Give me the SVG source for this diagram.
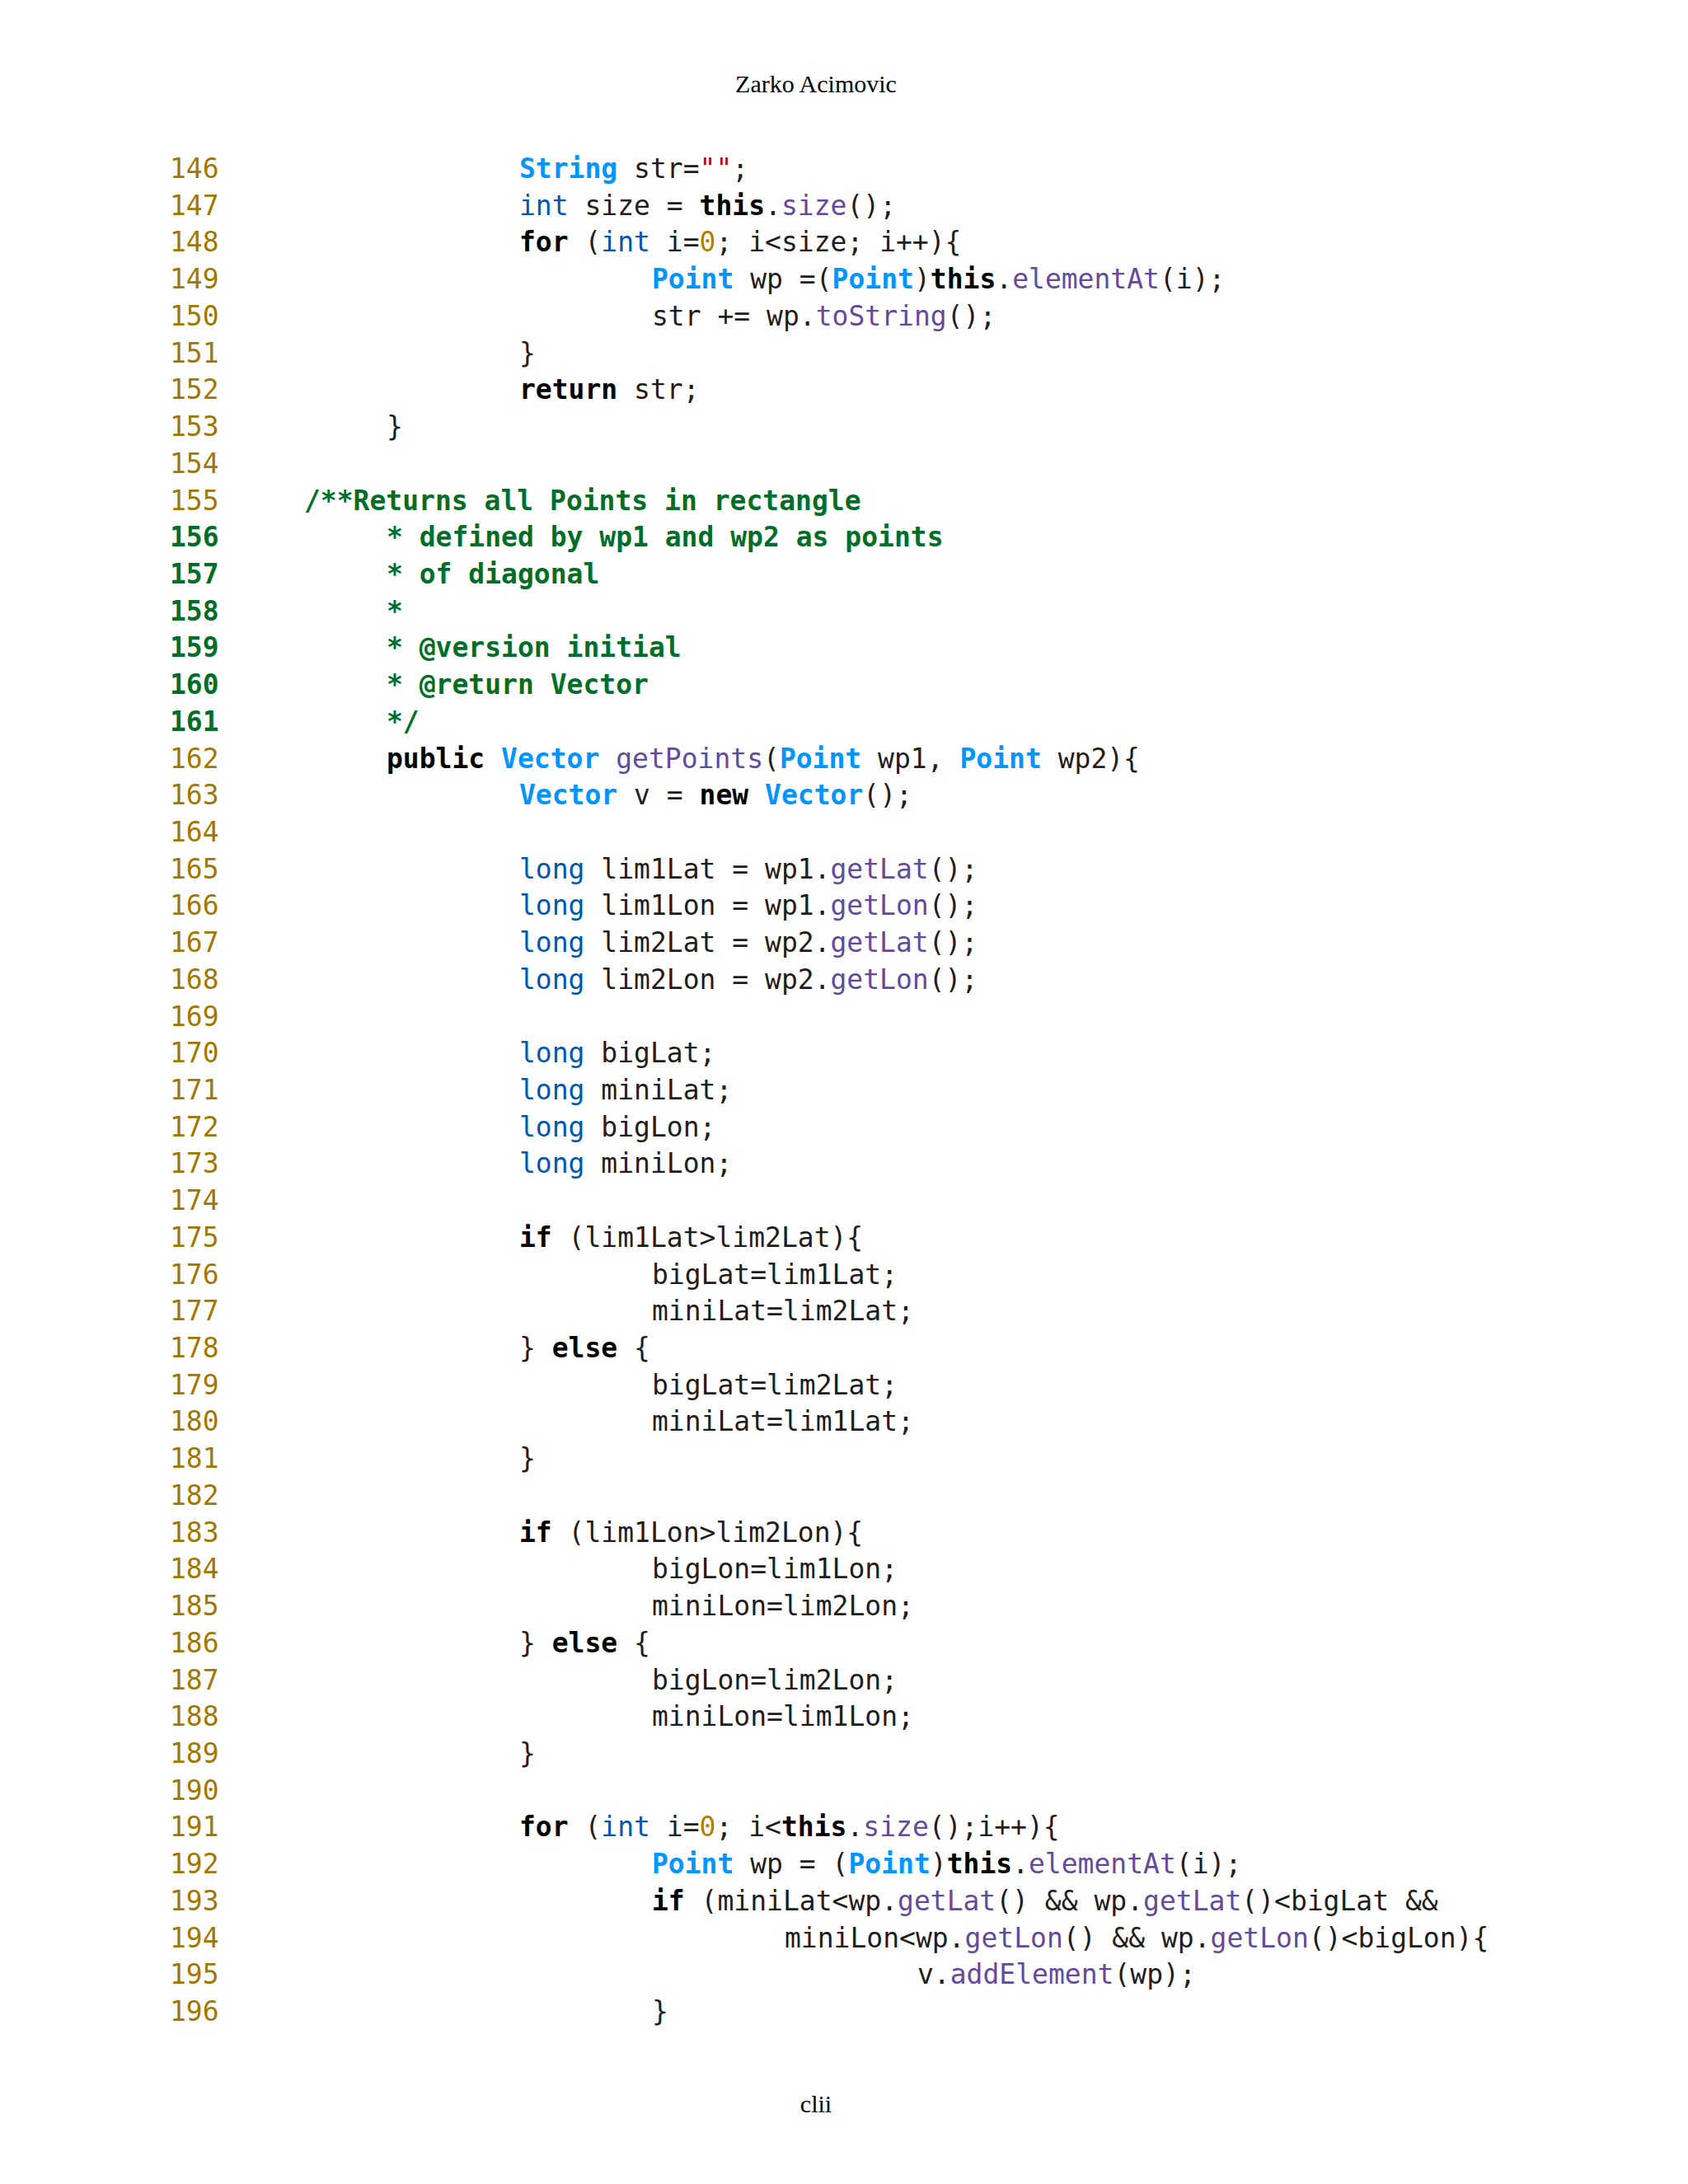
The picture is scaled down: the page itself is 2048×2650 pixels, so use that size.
<svg xmlns="http://www.w3.org/2000/svg" width="2048" height="2650" viewBox="0 0 2048 2650">
<style>
text{font-family:"DejaVu Sans Mono",monospace;font-size:33px;fill:#1f1c1b}
.hd{font-family:"Liberation Serif",serif;font-size:30px;fill:#000}
.ln{fill:#a07800}
.lc{fill:#006e28;font-weight:bold}
.k{font-weight:bold;fill:#000}
.t{fill:#0095ff;font-weight:bold}
.d{fill:#0057ae}
.f{fill:#644a9b}
.n{fill:#b08000}
.s{fill:#bf0303}
.c{fill:#006e28;font-weight:bold}
</style>
<rect width="2048" height="2650" fill="#fff"/>
<text class="hd" x="990" y="112" text-anchor="middle">Zarko Acimovic</text>
<text class="hd" x="990" y="2563" text-anchor="middle">clii</text>
<g id="linenumbers">
<text class="ln" x="206" y="216">146</text><text class="ln" x="206" y="260.7">147</text><text class="ln" x="206" y="305.4">148</text><text class="ln" x="206" y="350.2">149</text><text class="ln" x="206" y="394.9">150</text><text class="ln" x="206" y="439.6">151</text><text class="ln" x="206" y="484.3">152</text><text class="ln" x="206" y="529">153</text><text class="ln" x="206" y="573.8">154</text><text class="ln" x="206" y="618.5">155</text>
<text class="lc" x="206" y="663.2">156</text><text class="lc" x="206" y="707.9">157</text><text class="lc" x="206" y="752.6">158</text><text class="lc" x="206" y="797.4">159</text><text class="lc" x="206" y="842.1">160</text><text class="lc" x="206" y="886.8">161</text>
<text class="ln" x="206" y="931.5">162</text><text class="ln" x="206" y="976.2">163</text><text class="ln" x="206" y="1021">164</text><text class="ln" x="206" y="1065.7">165</text><text class="ln" x="206" y="1110.4">166</text><text class="ln" x="206" y="1155.1">167</text><text class="ln" x="206" y="1199.8">168</text><text class="ln" x="206" y="1244.6">169</text><text class="ln" x="206" y="1289.3">170</text><text class="ln" x="206" y="1334">171</text><text class="ln" x="206" y="1378.7">172</text><text class="ln" x="206" y="1423.4">173</text><text class="ln" x="206" y="1468.1">174</text><text class="ln" x="206" y="1512.9">175</text><text class="ln" x="206" y="1557.6">176</text><text class="ln" x="206" y="1602.3">177</text><text class="ln" x="206" y="1647">178</text><text class="ln" x="206" y="1691.7">179</text><text class="ln" x="206" y="1736.4">180</text><text class="ln" x="206" y="1781.2">181</text><text class="ln" x="206" y="1825.9">182</text><text class="ln" x="206" y="1870.6">183</text><text class="ln" x="206" y="1915.3">184</text><text class="ln" x="206" y="1960">185</text><text class="ln" x="206" y="2004.8">186</text><text class="ln" x="206" y="2049.5">187</text><text class="ln" x="206" y="2094.2">188</text><text class="ln" x="206" y="2138.9">189</text><text class="ln" x="206" y="2183.6">190</text><text class="ln" x="206" y="2228.3">191</text><text class="ln" x="206" y="2273.1">192</text><text class="ln" x="206" y="2317.8">193</text><text class="ln" x="206" y="2362.5">194</text><text class="ln" x="206" y="2407.2">195</text><text class="ln" x="206" y="2451.9">196</text>
</g>
<g id="code" xml:space="preserve">
<text x="630" y="216"><tspan class="t">String</tspan> str=<tspan class="s">""</tspan>;</text>
<text x="630" y="260.7"><tspan class="d">int</tspan> size = <tspan class="k">this</tspan>.<tspan class="f">size</tspan>();</text>
<text x="630" y="305.4"><tspan class="k">for</tspan> (<tspan class="d">int</tspan> i=<tspan class="n">0</tspan>; i&lt;size; i++){</text>
<text x="791" y="350.2"><tspan class="t">Point</tspan> wp =(<tspan class="t">Point</tspan>)<tspan class="k">this</tspan>.<tspan class="f">elementAt</tspan>(i);</text>
<text x="791" y="394.9">str += wp.<tspan class="f">toString</tspan>();</text>
<text x="630" y="439.6">}</text>
<text x="630" y="484.3"><tspan class="k">return</tspan> str;</text>
<text x="469" y="529">}</text>
<text class="c" x="369" y="618.5">/**Returns all Points in rectangle</text>
<text class="c" x="469" y="663.2">* defined by wp1 and wp2 as points</text>
<text class="c" x="469" y="707.9">* of diagonal</text>
<text class="c" x="469" y="752.6">*</text>
<text class="c" x="469" y="797.4">* @version initial</text>
<text class="c" x="469" y="842.1">* @return Vector</text>
<text class="c" x="469" y="886.8">*/</text>
<text x="469" y="931.5"><tspan class="k">public</tspan> <tspan class="t">Vector</tspan> <tspan class="f">getPoints</tspan>(<tspan class="t">Point</tspan> wp1, <tspan class="t">Point</tspan> wp2){</text>
<text x="630" y="976.2"><tspan class="t">Vector</tspan> v = <tspan class="k">new</tspan> <tspan class="t">Vector</tspan>();</text>
<text x="630" y="1065.7"><tspan class="d">long</tspan> lim1Lat = wp1.<tspan class="f">getLat</tspan>();</text>
<text x="630" y="1110.4"><tspan class="d">long</tspan> lim1Lon = wp1.<tspan class="f">getLon</tspan>();</text>
<text x="630" y="1155.1"><tspan class="d">long</tspan> lim2Lat = wp2.<tspan class="f">getLat</tspan>();</text>
<text x="630" y="1199.8"><tspan class="d">long</tspan> lim2Lon = wp2.<tspan class="f">getLon</tspan>();</text>
<text x="630" y="1289.3"><tspan class="d">long</tspan> bigLat;</text>
<text x="630" y="1334"><tspan class="d">long</tspan> miniLat;</text>
<text x="630" y="1378.7"><tspan class="d">long</tspan> bigLon;</text>
<text x="630" y="1423.4"><tspan class="d">long</tspan> miniLon;</text>
<text x="630" y="1512.9"><tspan class="k">if</tspan> (lim1Lat&gt;lim2Lat){</text>
<text x="791" y="1557.6">bigLat=lim1Lat;</text>
<text x="791" y="1602.3">miniLat=lim2Lat;</text>
<text x="630" y="1647">} <tspan class="k">else</tspan> {</text>
<text x="791" y="1691.7">bigLat=lim2Lat;</text>
<text x="791" y="1736.4">miniLat=lim1Lat;</text>
<text x="630" y="1781.2">}</text>
<text x="630" y="1870.6"><tspan class="k">if</tspan> (lim1Lon&gt;lim2Lon){</text>
<text x="791" y="1915.3">bigLon=lim1Lon;</text>
<text x="791" y="1960">miniLon=lim2Lon;</text>
<text x="630" y="2004.8">} <tspan class="k">else</tspan> {</text>
<text x="791" y="2049.5">bigLon=lim2Lon;</text>
<text x="791" y="2094.2">miniLon=lim1Lon;</text>
<text x="630" y="2138.9">}</text>
<text x="630" y="2228.3"><tspan class="k">for</tspan> (<tspan class="d">int</tspan> i=<tspan class="n">0</tspan>; i&lt;<tspan class="k">this</tspan>.<tspan class="f">size</tspan>();i++){</text>
<text x="791" y="2273.1"><tspan class="t">Point</tspan> wp = (<tspan class="t">Point</tspan>)<tspan class="k">this</tspan>.<tspan class="f">elementAt</tspan>(i);</text>
<text x="791" y="2317.8"><tspan class="k">if</tspan> (miniLat&lt;wp.<tspan class="f">getLat</tspan>() &amp;&amp; wp.<tspan class="f">getLat</tspan>()&lt;bigLat &amp;&amp;</text>
<text x="952" y="2362.5">miniLon&lt;wp.<tspan class="f">getLon</tspan>() &amp;&amp; wp.<tspan class="f">getLon</tspan>()&lt;bigLon){</text>
<text x="1113" y="2407.2">v.<tspan class="f">addElement</tspan>(wp);</text>
<text x="791" y="2451.9">}</text>
</g>
</svg>
